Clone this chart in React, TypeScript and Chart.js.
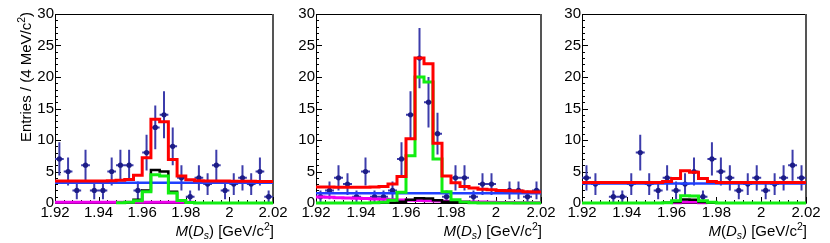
import { useEffect, useRef } from 'react';
import { Chart, registerables } from 'chart.js';

Chart.register(...registerables);

// ---------- data ----------
const binLow = [1.920, 1.924, 1.928, 1.932, 1.936, 1.940, 1.944, 1.948, 1.952, 1.956, 1.960, 1.964, 1.968, 1.972, 1.976, 1.980, 1.984, 1.988, 1.992, 1.996, 2.000, 2.004, 2.008, 2.012, 2.016];
const binWidth = 0.004;

const xTickValues = [1.92, 1.94, 1.96, 1.98, 2.0, 2.02];
const xTickLabels = ['1.92', '1.94', '1.96', '1.98', '2', '2.02'];
const yTickValues = [0, 5, 10, 15, 20, 25, 30];
const yTickLabels = ['0', '5', '10', '15', '20', '25', '30'];

// observed entries per bin
const dataP1 = [7, 5, 2, 6, 2, 2, 5, 6, 6, 2, 8, 12, 14, 9, 4, 1, 4, 3, 6, 2, 3, 4, 3, 5, 1];
const dataP2 = [1, 2, 4, 3, 1, 5, 1, 1, 2, 7, 14, 23, 16, 11, 1, 4, 4, 1, 3, 3, 0, 2, 2, 1, 2];
const dataP3 = [4, 3, 0, 1, 1, 3, 8, 3, 2, 4, 2, 3, 5, 1, 7, 5, 4, 2, 3, 4, 2, 3, 4, 6, 4];

// total fit (red)
const totalP1 = [3.5, 3.5, 3.5, 3.5, 3.5, 3.5, 3.55, 3.6, 3.75, 4.4, 7.2, 13.3, 12.9, 6.9, 4.3, 3.7, 3.55, 3.5, 3.5, 3.5, 3.45, 3.45, 3.45, 3.4, 3.4];
const totalP2 = [2.55, 2.55, 2.5, 2.5, 2.5, 2.5, 2.55, 2.6, 3.0, 4.2, 10.2, 23.0, 22.1, 9.5, 4.3, 3.2, 2.6, 2.4, 2.2, 2.1, 2.0, 1.95, 1.9, 1.8, 1.75];
const totalP3 = [3.25, 3.25, 3.25, 3.25, 3.25, 3.25, 3.25, 3.25, 3.25, 3.4, 3.9, 5.1, 4.9, 3.9, 3.4, 3.25, 3.25, 3.25, 3.25, 3.25, 3.25, 3.25, 3.25, 3.25, 3.25];

// signal (green)
const signalP1 = [null, null, null, null, null, null, null, 0.02, 0.1, 0.35, 1.8, 4.5, 4.3, 1.6, 0.4, 0.08, 0, 0, 0, 0, 0, 0, 0, 0, 0];
const signalP2 = [0, 0, 0, 0, 0, 0, 0.02, 0.1, 0.45, 1.7, 7.5, 20.0, 19.2, 7.0, 1.8, 0.5, 0.15, 0.05, 0, 0, 0, 0, 0, 0, 0];
const signalP3 = [0, 0, 0, 0, 0, 0, 0, 0, 0, 0.05, 0.35, 1.15, 1.1, 0.35, 0.1, 0, 0, 0, 0, 0, 0, 0, 0, 0, 0];

// peaking component (black)
const peakP1 = [null, null, null, null, null, null, null, null, 0.1, 0.5, 2.0, 5.25, 5.0, 1.8, 0.45, 0.1, null, null, null, null, null, null, null, null, null];
const peakP2 = [null, null, null, null, null, null, null, null, 0.05, 0.2, 0.5, 0.75, 0.7, 0.45, 0.2, 0.1, 0.05, null, null, null, null, null, null, null, null];
const peakP3 = [null, null, null, null, null, null, null, null, null, 0.05, 0.15, 0.55, 0.5, 0.15, 0.05, null, null, null, null, null, null, null, null, null, null];

// other background (magenta)
const otherP1 = [0.12, 0.12, 0.12, 0.12, 0.12, 0.12, 0.12, 0.12, 0.12, 0.12, 0.12, 0.12, 0.12, 0.12, 0.12, 0.12, null, null, null, null, null, null, null, null, null];
const otherP2 = [0.95, 0.9, 0.85, 0.8, 0.75, 0.7, 0.64, 0.58, 0.52, 0.48, 0.44, 0.4, 0.36, 0.32, 0.28, 0.24, 0.2, 0.17, 0.14, 0.11, 0.08, 0.06, 0.04, 0.03, 0.02];
const otherP3 = [null, null, null, null, null, null, null, null, null, null, 0.05, 0.15, 0.15, 0.05, null, null, null, null, null, null, null, null, null, null, null];

// flat combinatorial background (blue)
const bkgLevel = [3.2, 1.55, 3.1];

const panels = [
  { data: dataP1, total: totalP1, signal: signalP1, peak: peakP1, other: otherP1, bkg: bkgLevel[0], yTitle: true },
  { data: dataP2, total: totalP2, signal: signalP2, peak: peakP2, other: otherP2, bkg: bkgLevel[1], yTitle: false },
  { data: dataP3, total: totalP3, signal: signalP3, peak: peakP3, other: otherP3, bkg: bkgLevel[2], yTitle: false },
];

// ---------- layout ----------
const layout = [
  { canvasLeft: 0, chartLeft: 55, chartRight: 273 },
  { canvasLeft: 276, chartLeft: 316, chartRight: 541 },
  { canvasLeft: 550, chartLeft: 582, chartRight: 806 },
];
const H = 243;
const TOP = 14;
const BOTTOM = 203;
const RIGHT_PAD = 22;
const FONT = '"Liberation Sans", Arial, Helvetica, sans-serif';
const FS = 15;

type Seg = { t: string; it?: boolean; sub?: boolean; sup?: boolean };

function drawRich(ctx: CanvasRenderingContext2D, segs: Seg[], x: number, y: number, size: number) {
  const fontOf = (s: Seg) => `${s.it ? 'italic ' : ''}${s.sub || s.sup ? size * 0.7 : size}px ${FONT}`;
  let total = 0;
  const widths = segs.map((s) => {
    ctx.font = fontOf(s);
    const w = ctx.measureText(s.t).width;
    total += w;
    return w;
  });
  let cx = x - total; // right aligned
  ctx.fillStyle = '#000';
  ctx.textBaseline = 'alphabetic';
  ctx.textAlign = 'left';
  segs.forEach((s, i) => {
    ctx.font = fontOf(s);
    const dy = s.sub ? size * 0.22 : s.sup ? -size * 0.4 : 0;
    ctx.fillText(s.t, cx, y + dy);
    cx += widths[i];
  });
}

const xTitle: Seg[] = [
  { t: 'M', it: true }, { t: '(' }, { t: 'D', it: true }, { t: 's', it: true, sub: true }, { t: ')' },
  { t: ' [GeV/c' }, { t: '2', sup: true }, { t: ']' },
];
const yTitle: Seg[] = [{ t: 'Entries / (4 MeV/c' }, { t: '2', sup: true }, { t: ')' }];

const rootStyle = {
  id: 'rootStyle',
  beforeDatasetsDraw(chart: any, _args: any, opts: any) {
    const { ctx, chartArea: a, scales } = chart;
    const x = scales.x;
    const y = scales.y;
    ctx.save();
    // frame
    ctx.strokeStyle = '#000';
    ctx.lineWidth = 1;
    ctx.beginPath();
    ctx.moveTo(a.left + 0.5, a.bottom + 0.5);
    ctx.lineTo(a.left + 0.5, a.top + 0.5);
    ctx.lineTo(a.right, a.top + 0.5);
    ctx.moveTo(a.left, a.bottom + 0.5);
    ctx.lineTo(a.right, a.bottom + 0.5);
    ctx.stroke();
    ctx.strokeStyle = '#555';
    ctx.lineWidth = 2;
    ctx.beginPath();
    ctx.moveTo(a.right, a.top);
    ctx.lineTo(a.right, a.bottom + 1);
    ctx.stroke();
    // inward ticks
    ctx.strokeStyle = '#000';
    ctx.lineWidth = 1;
    ctx.beginPath();
    for (let v = y.min; v <= y.max + 1e-9; v += 1) {
      const py = Math.round(y.getPixelForValue(v)) + 0.5;
      const len = Math.abs(v % 5) < 1e-9 ? 6 : 3;
      ctx.moveTo(a.left, py);
      ctx.lineTo(a.left + len, py);
    }
    for (let k = 0; k * 0.004 <= x.max - x.min + 1e-9; k++) {
      const v = x.min + k * 0.004;
      const px = Math.round(x.getPixelForValue(v)) + 0.5;
      const len = k % 5 === 0 ? 6 : 3;
      ctx.moveTo(px, a.bottom);
      ctx.lineTo(px, a.bottom - len);
    }
    ctx.stroke();
    // data error bars (sqrt(N) vertical, bin width horizontal)
    const counts: number[] = opts.counts;
    ctx.strokeStyle = '#3c3cab';
    ctx.lineWidth = 2;
    ctx.beginPath();
    counts.forEach((n, i) => {
      if (n <= 0) return;
      const xl = x.getPixelForValue(binLow[i]);
      const xr = x.getPixelForValue(binLow[i] + binWidth);
      const xc = x.getPixelForValue(binLow[i] + binWidth / 2);
      const e = Math.sqrt(n);
      const yc = y.getPixelForValue(n);
      ctx.moveTo(xl, yc);
      ctx.lineTo(xr, yc);
      ctx.moveTo(xc, y.getPixelForValue(n + e));
      ctx.lineTo(xc, y.getPixelForValue(Math.max(n - e, 0)));
    });
    ctx.stroke();
    ctx.restore();
  },
  afterDraw(chart: any, _args: any, opts: any) {
    const { ctx, chartArea: a } = chart;
    ctx.save();
    drawRich(ctx, xTitle, a.right + 1, 236, FS);
    if (opts.yTitle) {
      ctx.translate(31, 12);
      ctx.rotate(-Math.PI / 2);
      drawRich(ctx, yTitle, 0, 0, FS);
    }
    ctx.restore();
  },
};

// histogram as step line: one point at each bin's low edge, plus a closing point at the
// high edge of every run of defined bins; stepped 'before' keeps y of the left point.
function histPoints(values: (number | null)[]) {
  const pts: { x: number; y: number | null }[] = [];
  values.forEach((v, i) => {
    if (v === null) {
      pts.push({ x: binLow[i], y: null });
      return;
    }
    pts.push({ x: binLow[i], y: v });
    const next = i + 1 < values.length ? values[i + 1] : null;
    if (next === null) pts.push({ x: binLow[i] + binWidth, y: v });
  });
  return pts;
}

function lineDs(values: (number | null)[], color: string, width: number) {
  return {
    type: 'line',
    data: histPoints(values),
    borderColor: color,
    borderWidth: width,
    pointRadius: 0,
    fill: false,
    stepped: 'before',
    spanGaps: false,
    clip: 6,
    borderJoinStyle: 'miter',
    borderCapStyle: 'butt',
  };
}

function Panel({ idx }: { idx: number }) {
  const ref = useRef<HTMLCanvasElement>(null);
  const L = layout[idx];
  const P = panels[idx];
  const width = L.chartRight + RIGHT_PAD - L.canvasLeft;
  useEffect(() => {
    if (!ref.current) return;
    const yBox = L.chartLeft - L.canvasLeft;
    const markers = P.data.map((n, i) => ({ x: binLow[i] + binWidth / 2, y: n > 0 ? n : null }));
    const chart = new Chart(ref.current, {
      type: 'line',
      data: {
        datasets: [
          lineDs(P.total, '#ff0000', 3),
          lineDs(P.signal, '#11ee11', 3),
          lineDs(P.peak, '#000000', 2.5),
          lineDs(P.other, '#ee00ee', 3),
          {
            type: 'line',
            data: [{ x: binLow[0], y: P.bkg }, { x: binLow[binLow.length - 1] + binWidth, y: P.bkg }],
            borderColor: '#2040ff',
            borderWidth: 2.5,
            pointRadius: 0,
            fill: false,
            clip: 6,
          },
          {
            type: 'line',
            data: markers,
            showLine: false,
            pointRadius: 2.6,
            pointBorderWidth: 0,
            pointBackgroundColor: '#1c1c86',
            pointBorderColor: '#1c1c86',
            order: 10,
          },
        ] as any,
      },
      options: {
        animation: false,
        responsive: false,
        events: [],
        layout: { padding: { left: 0, right: RIGHT_PAD, top: TOP, bottom: 0 } },
        plugins: {
          legend: { display: false },
          tooltip: { enabled: false },
          rootStyle: { counts: P.data, yTitle: P.yTitle },
        } as any,
        scales: {
          x: {
            type: 'linear',
            min: 1.92,
            max: 2.02,
            grid: { display: false, drawTicks: false },
            border: { display: false },
            afterBuildTicks: (s: any) => { s.ticks = xTickValues.map((v) => ({ value: v })); },
            afterFit: (s: any) => { s.height = H - BOTTOM; },
            ticks: {
              autoSkip: false,
              maxRotation: 0,
              minRotation: 0,
              padding: 1,
              color: '#000',
              font: { family: FONT, size: FS },
              callback: (_v: any, i: number) => xTickLabels[i],
            },
          },
          y: {
            type: 'linear',
            min: 0,
            max: 30,
            grid: { display: false, drawTicks: false },
            border: { display: false },
            afterBuildTicks: (s: any) => { s.ticks = yTickValues.map((v) => ({ value: v })); },
            afterFit: (s: any) => { s.width = yBox; },
            ticks: {
              autoSkip: false,
              padding: 1,
              color: '#000',
              font: { family: FONT, size: FS },
              callback: (_v: any, i: number) => yTickLabels[i],
            },
          },
        } as any,
      },
      plugins: [rootStyle as any],
    } as any);
    return () => chart.destroy();
  }, []);
  return (
    <canvas
      ref={ref}
      width={width}
      height={H}
      style={{ position: 'absolute', left: L.canvasLeft, top: 0, width, height: H }}
    />
  );
}

export default function App() {
  return (
    <div style={{ position: 'absolute', left: 0, top: 0, width: 830, height: H, background: '#fff', overflow: 'hidden' }}>
      <Panel idx={0} />
      <Panel idx={1} />
      <Panel idx={2} />
    </div>
  );
}
